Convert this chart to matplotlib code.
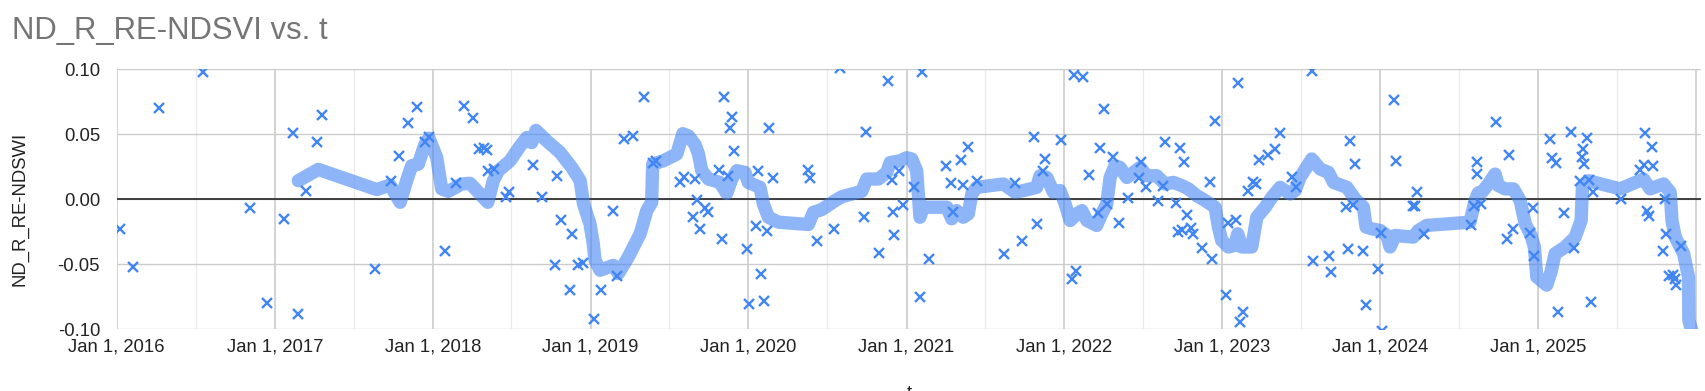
import matplotlib
matplotlib.use('Agg')
import matplotlib.pyplot as plt
from datetime import datetime, timedelta

plt.rcParams['font.family'] = ['Liberation Sans', 'DejaVu Sans']

# ---------------- data (decimal years, values) ----------------
point_t = [
    2016.021, 2016.105, 2016.269, 2016.545, 2016.844, 2016.954, 2017.059, 2017.114, 2017.146, 2017.199,
    2017.271, 2017.297, 2017.636, 2017.736, 2017.790, 2017.843, 2017.900, 2017.953, 2017.980, 2018.080,
    2018.147, 2018.200, 2018.258, 2018.294, 2018.326, 2018.343, 2018.350, 2018.392, 2018.466, 2018.487,
    2018.638, 2018.691, 2018.776, 2018.791, 2018.812, 2018.871, 2018.882, 2018.924, 2018.956, 2019.024,
    2019.065, 2019.145, 2019.171, 2019.213, 2019.268, 2019.340, 2019.394, 2019.415, 2019.568, 2019.595,
    2019.652, 2019.663, 2019.674, 2019.691, 2019.726, 2019.747, 2019.814, 2019.831, 2019.846, 2019.873,
    2019.884, 2019.899, 2019.911, 2019.990, 2020.007, 2020.049, 2020.064, 2020.079, 2020.102, 2020.117,
    2020.134, 2020.159, 2020.380, 2020.391, 2020.433, 2020.545, 2020.581, 2020.735, 2020.745, 2020.830,
    2020.883, 2020.909, 2020.918, 2020.925, 2020.957, 2020.982, 2021.049, 2021.087, 2021.102, 2021.144,
    2021.252, 2021.282, 2021.295, 2021.347, 2021.361, 2021.393, 2021.446, 2021.622, 2021.689, 2021.732,
    2021.809, 2021.826, 2021.868, 2021.879, 2021.981, 2022.049, 2022.063, 2022.076, 2022.118, 2022.160,
    2022.216, 2022.227, 2022.254, 2022.270, 2022.312, 2022.348, 2022.403, 2022.471, 2022.488, 2022.517,
    2022.596, 2022.624, 2022.639, 2022.707, 2022.719, 2022.734, 2022.745, 2022.761, 2022.777, 2022.804,
    2022.819, 2022.872, 2022.925, 2022.936, 2022.957, 2023.024, 2023.036, 2023.089, 2023.100, 2023.114,
    2023.135, 2023.167, 2023.199, 2023.214, 2023.235, 2023.294, 2023.336, 2023.364, 2023.441, 2023.468,
    2023.568, 2023.578, 2023.678, 2023.689, 2023.785, 2023.800, 2023.811, 2023.827, 2023.842, 2023.895,
    2023.912, 2023.990, 2024.005, 2024.012, 2024.090, 2024.102, 2024.208, 2024.222, 2024.237, 2024.279,
    2024.577, 2024.598, 2024.613, 2024.616, 2024.640, 2024.734, 2024.804, 2024.815, 2024.842, 2024.951,
    2024.966, 2024.978, 2025.077, 2025.088, 2025.113, 2025.130, 2025.168, 2025.210, 2025.231, 2025.267,
    2025.278, 2025.284, 2025.294, 2025.310, 2025.324, 2025.337, 2025.352, 2025.525, 2025.648, 2025.669,
    2025.680, 2025.690, 2025.701, 2025.722, 2025.729, 2025.790, 2025.803, 2025.812, 2025.829, 2025.856,
    2025.866, 2025.876, 2025.906,
]
point_v = [
    -0.0227, -0.0520, 0.0705, 0.0980, -0.0069, -0.0800, -0.0150, 0.0508, -0.0885, 0.0061,
    0.0437, 0.0646, -0.0538, 0.0138, 0.0335, 0.0590, 0.0712, 0.0437, 0.0480, -0.0400,
    0.0125, 0.0717, 0.0628, 0.0386, 0.0393, 0.0378, 0.0220, 0.0233, 0.0015, 0.0054,
    0.0263, 0.0015, -0.0503, 0.0176, -0.0158, -0.0700, -0.0265, -0.0503, -0.0487, -0.0924,
    -0.0700, -0.0092, -0.0592, 0.0467, 0.0488, 0.0786, 0.0276, 0.0296, 0.0130, 0.0174,
    -0.0138, 0.0156, -0.0005, -0.0227, -0.0069, -0.0094, 0.0227, -0.0309, 0.0789, 0.0176,
    0.0547, 0.0633, 0.0368, -0.0380, -0.0806, -0.0209, 0.0220, -0.0571, -0.0781, -0.0245,
    0.0551, 0.0161, 0.0225, 0.0164, -0.0321, -0.0227, 0.1010, -0.0138, 0.0520, -0.0410,
    0.0909, 0.0149, -0.0100, -0.0278, 0.0220, -0.0043, 0.0092, -0.0755, 0.0980, -0.0456,
    0.0258, 0.0125, -0.0100, 0.0302, 0.0110, 0.0404, 0.0143, -0.0418, 0.0123, -0.0324,
    0.0480, -0.0188, 0.0220, 0.0309, 0.0455, -0.0615, 0.0960, -0.0553, 0.0940, 0.0187,
    -0.0107, 0.0393, 0.0697, -0.0035, 0.0327, -0.0184, 0.0008, 0.0164, 0.0289, 0.0092,
    -0.0010, 0.0105, 0.0437, -0.0031, -0.0253, 0.0398, -0.0235, 0.0289, -0.0120, -0.0222,
    -0.0265, -0.0375, 0.0130, -0.0462, 0.0603, -0.0737, -0.0184, -0.0163, 0.0891, -0.0947,
    -0.0870, 0.0067, 0.0130, 0.0118, 0.0302, 0.0342, 0.0386, 0.0508, 0.0168, 0.0097,
    0.0985, -0.0475, -0.0439, -0.0559, -0.0061, -0.0385, 0.0450, -0.0040, 0.0271, -0.0398,
    -0.0814, -0.0538, -0.0257, -0.1010, 0.0763, 0.0291, -0.0054, -0.0054, 0.0059, -0.0265,
    -0.0201, -0.0054, 0.0289, 0.0194, -0.0035, 0.0597, -0.0309, 0.0340, -0.0227, -0.0260,
    -0.0069, -0.0436, 0.0462, 0.0314, 0.0276, -0.0870, -0.0104, 0.0518, -0.0372, 0.0143,
    0.0322, 0.0390, 0.0271, 0.0475, 0.0151, -0.0793, 0.0059, 0.0003, 0.0227, 0.0266,
    0.0513, -0.0087, -0.0125, 0.0404, 0.0256, -0.0400, 0.0003, -0.0265, -0.0592, -0.0584,
    -0.0610, -0.0660, -0.0360,
]

trend_t = [
    2017.150, 2017.277, 2017.647, 2017.731, 2017.795, 2017.836, 2017.868, 2017.910, 2017.952, 2017.978,
    2018.027, 2018.058, 2018.100, 2018.185, 2018.237, 2018.301, 2018.350, 2018.385, 2018.417, 2018.491,
    2018.555, 2018.597, 2018.628, 2018.655, 2018.723, 2018.808, 2018.882, 2018.935, 2018.956, 2018.997,
    2019.018, 2019.029, 2019.061, 2019.145, 2019.177, 2019.240, 2019.315, 2019.357, 2019.388, 2019.394,
    2019.461, 2019.547, 2019.585, 2019.620, 2019.663, 2019.684, 2019.705, 2019.747, 2019.820, 2019.863,
    2019.895, 2019.927, 2019.979, 2020.000, 2020.074, 2020.095, 2020.127, 2020.190, 2020.380, 2020.412,
    2020.465, 2020.550, 2020.592, 2020.718, 2020.750, 2020.824, 2020.877, 2020.898, 2020.961, 2021.003,
    2021.035, 2021.066, 2021.087, 2021.108, 2021.257, 2021.288, 2021.319, 2021.361, 2021.393, 2021.415,
    2021.446, 2021.531, 2021.615, 2021.689, 2021.742, 2021.826, 2021.847, 2021.890, 2021.932, 2021.974,
    2022.006, 2022.038, 2022.080, 2022.112, 2022.144, 2022.206, 2022.238, 2022.270, 2022.291, 2022.322,
    2022.354, 2022.397, 2022.439, 2022.481, 2022.524, 2022.586, 2022.639, 2022.692, 2022.745, 2022.787,
    2022.840, 2022.893, 2022.956, 2022.977, 2022.998, 2023.040, 2023.082, 2023.099, 2023.125, 2023.188,
    2023.220, 2023.273, 2023.315, 2023.368, 2023.431, 2023.462, 2023.494, 2023.568, 2023.621, 2023.674,
    2023.706, 2023.790, 2023.842, 2023.895, 2023.912, 2023.948, 2024.001, 2024.043, 2024.064, 2024.096,
    2024.211, 2024.243, 2024.296, 2024.570, 2024.602, 2024.623, 2024.645, 2024.687, 2024.729, 2024.750,
    2024.793, 2024.845, 2024.888, 2024.920, 2024.957, 2024.978, 2024.993, 2025.056, 2025.083, 2025.109,
    2025.173, 2025.236, 2025.274, 2025.282, 2025.320, 2025.521, 2025.669, 2025.711, 2025.796, 2025.838,
    2025.849, 2025.870, 2025.923, 2025.954, 2025.956, 2025.983,
]
trend_v = [
    0.0143, 0.0230, 0.0075, 0.0110, -0.0023, 0.0143, 0.0258, 0.0270, 0.0424, 0.0470,
    0.0320, 0.0080, 0.0061, 0.0118, 0.0123, 0.0041, -0.0023, 0.0143, 0.0220, 0.0296,
    0.0410, 0.0475, 0.0436, 0.0530, 0.0450, 0.0360, 0.0245, 0.0143, -0.0035, -0.0188,
    -0.0341, -0.0469, -0.0546, -0.0508, -0.0571, -0.0444, -0.0265, -0.0087, -0.0023, 0.0270,
    0.0296, 0.0348, 0.0505, 0.0488, 0.0420, 0.0350, 0.0220, 0.0156, 0.0130, 0.0046,
    0.0156, 0.0220, 0.0207, 0.0130, 0.0092, -0.0035, -0.0138, -0.0176, -0.0194, -0.0100,
    -0.0079, -0.0010, 0.0020, 0.0061, 0.0156, 0.0156, 0.0207, 0.0283, 0.0296, 0.0320,
    0.0310, 0.0220, -0.0138, -0.0061, -0.0061, -0.0150, -0.0087, -0.0138, -0.0112, 0.0041,
    0.0092, 0.0105, 0.0118, 0.0054, 0.0067, 0.0092, 0.0181, 0.0168, 0.0054, 0.0067,
    -0.0035, -0.0163, -0.0112, -0.0087, -0.0163, -0.0201, -0.0112, -0.0035, 0.0168, 0.0258,
    0.0245, 0.0168, 0.0207, 0.0245, 0.0181, 0.0181, 0.0118, 0.0130, 0.0105, 0.0080,
    0.0028, -0.0010, -0.0061, -0.0214, -0.0316, -0.0367, -0.0354, -0.0265, -0.0367, -0.0367,
    -0.0138, -0.0061, 0.0015, 0.0092, 0.0041, 0.0067, 0.0168, 0.0310, 0.0233, 0.0207,
    0.0130, 0.0092, 0.0003, -0.0061, -0.0214, -0.0227, -0.0240, -0.0278, -0.0367, -0.0278,
    -0.0291, -0.0240, -0.0201, -0.0176, -0.0010, 0.0050, 0.0054, 0.0118, 0.0194, 0.0105,
    0.0080, 0.0080, -0.0010, -0.0188, -0.0278, -0.0367, -0.0597, -0.0660, -0.0559, -0.0418,
    -0.0367, -0.0291, -0.0163, 0.0092, 0.0143, 0.0080, 0.0156, 0.0080, 0.0118, 0.0054,
    -0.0163, -0.0291, -0.0418, -0.0597, -0.0930, -0.1050,
]

tick_years = [2016, 2017, 2018, 2019, 2020, 2021, 2022, 2023, 2024, 2025, 2026]
x_tick_labels = ['Jan 1, 2016', 'Jan 1, 2017', 'Jan 1, 2018', 'Jan 1, 2019', 'Jan 1, 2020',
                 'Jan 1, 2021', 'Jan 1, 2022', 'Jan 1, 2023', 'Jan 1, 2024', 'Jan 1, 2025', '']
y_ticks = [-0.10, -0.05, 0.00, 0.05, 0.10]
y_tick_labels = ['-0.10', '-0.05', '0.00', '0.05', '0.10']

title = 'ND_R_RE-NDSVI vs. t'
y_label = 'ND_R_RE-NDSWI'
x_label = 't'


def to_date(t):
    return datetime(2016, 1, 1) + timedelta(days=(t - 2016) * 365.25)


W, H = 1705, 391
fig = plt.figure(figsize=(W / 100, H / 100), dpi=100)
left, right, top, bottom = 116.7, 1701.0, 69.3, 329.3
ax = fig.add_axes([left / W, 1 - bottom / H, (right - left) / W, (bottom - top) / H])

# gridlines
ax.set_xticks([datetime(y, 1, 1) for y in tick_years])
ax.set_xticklabels(x_tick_labels)
ax.set_xticks([datetime(y, 7, 2) for y in tick_years[:-1]], minor=True)
ax.set_yticks(y_ticks)
ax.set_yticklabels(y_tick_labels)
ax.grid(which='major', axis='x', color='#cccccc', lw=1.2, zorder=0)
ax.grid(which='minor', axis='x', color='#ebebeb', lw=1.0, zorder=0)
ax.grid(which='major', axis='y', color='#cccccc', lw=1.0, zorder=0)
ax.set_axisbelow(True)
ax.axhline(0, color='#333333', lw=1.3, zorder=1)

# trend line
ax.plot([to_date(t) for t in trend_t], trend_v, color='#4285f4', alpha=0.6, lw=9.6,
        solid_capstyle='round', solid_joinstyle='round', zorder=2)
# points
ax.plot([to_date(t) for t in point_t], point_v, linestyle='none', marker='x',
        color='#4285f4', markersize=7, markeredgewidth=1.7, zorder=3)

ax.set_xlim(datetime(2016, 1, 1), to_date(2026.033))
ax.set_ylim(-0.10, 0.10)
for s in ax.spines.values():
    s.set_visible(False)
ax.tick_params(which='both', length=0)
ax.tick_params(axis='x', pad=6.5, labelsize=13.3, labelcolor='#222222')
ax.tick_params(axis='y', pad=12, labelsize=13.3, labelcolor='#222222')

fig.text(11.7 / W, 1 - 39.3 / H, title, fontsize=22.4, color='#757575',
         ha='left', va='baseline')
fig.text(20 / W, 1 - 208.9 / H, y_label, fontsize=13.3, color='#222222',
         rotation=90, ha='center', va='center')
fig.text(909 / W, -0.018, x_label, fontsize=13.3, color='#222222',
         ha='center', va='baseline')

fig.savefig('out.png', dpi=100)
